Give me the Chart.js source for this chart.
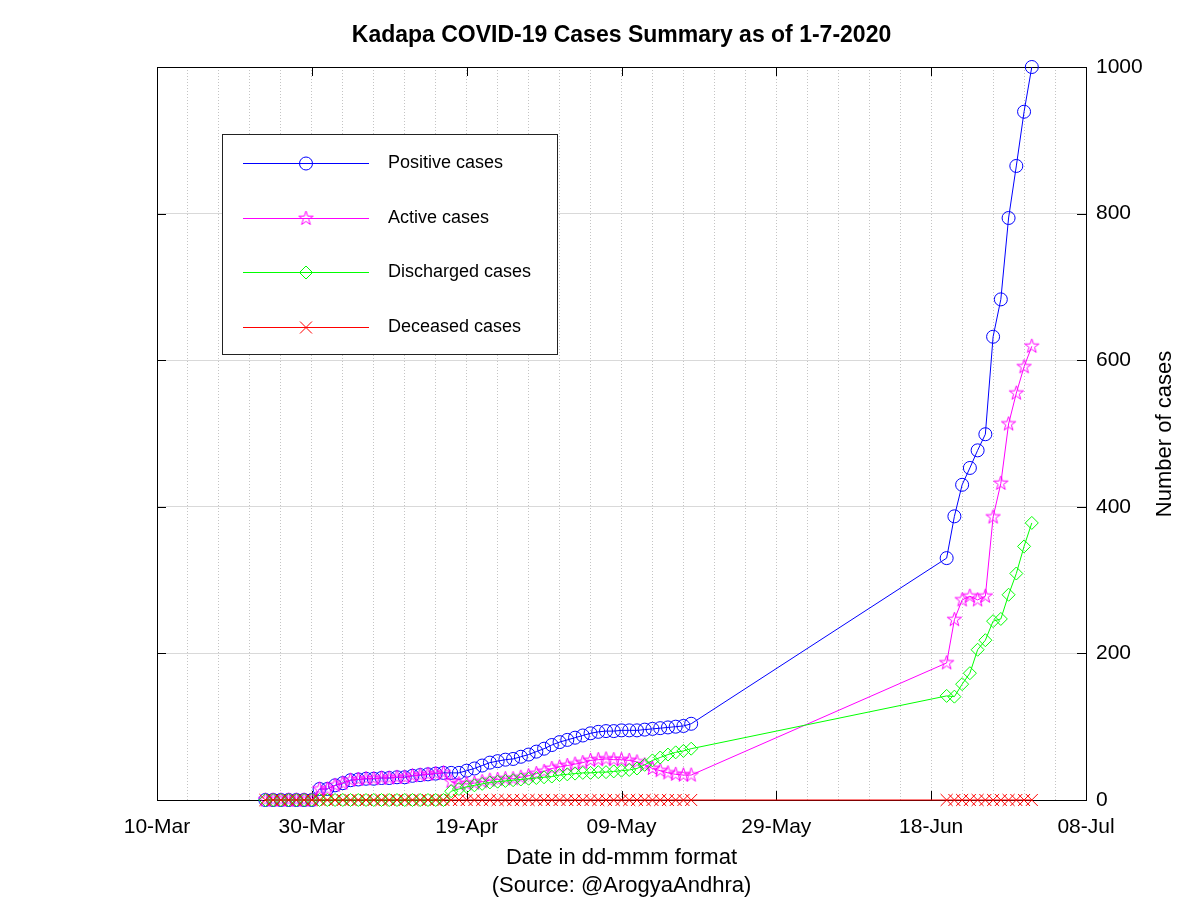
<!DOCTYPE html>
<html>
<head>
<meta charset="utf-8">
<script src="https://cdn.jsdelivr.net/npm/chart.js@4/dist/chart.umd.min.js"></script>
<style>
  body { margin: 0; background: #fff; }
  canvas { display: block; }
</style>
</head>
<body>
<canvas id="kadapaChart" width="1200" height="900"></canvas>
<script>
'use strict';

// data
var dates = [
  '2020-03-24','2020-03-25','2020-03-26','2020-03-27','2020-03-28','2020-03-29','2020-03-30',
  '2020-03-31','2020-04-01','2020-04-02','2020-04-03','2020-04-04','2020-04-05','2020-04-06',
  '2020-04-07','2020-04-08','2020-04-09','2020-04-10','2020-04-11','2020-04-12','2020-04-13',
  '2020-04-14','2020-04-15','2020-04-16','2020-04-17','2020-04-18','2020-04-19','2020-04-20',
  '2020-04-21','2020-04-22','2020-04-23','2020-04-24','2020-04-25','2020-04-26','2020-04-27',
  '2020-04-28','2020-04-29','2020-04-30','2020-05-01','2020-05-02','2020-05-03','2020-05-04',
  '2020-05-05','2020-05-06','2020-05-07','2020-05-08','2020-05-09','2020-05-10','2020-05-11',
  '2020-05-12','2020-05-13','2020-05-14','2020-05-15','2020-05-16','2020-05-17','2020-05-18',
  '2020-06-20','2020-06-21','2020-06-22','2020-06-23','2020-06-24','2020-06-25','2020-06-26',
  '2020-06-27','2020-06-28','2020-06-29','2020-06-30','2020-07-01'
];
var positive = [
  0,0,0,0,0,0,0,
  15,15,20,23,27,28,29,29,30,30,31,31,33,34,35,36,37,37,37,40,
  43,47,51,53,55,56,59,62,66,70,75,79,82,85,88,91,93,94,94,95,
  95,95,96,97,98,99,100,101,104,
  330,387,430,453,477,499,632,683,794,865,939,1000
];
var active = [
  0,0,0,0,0,0,0,
  15,15,20,23,27,28,29,29,30,30,31,31,33,34,35,36,37,25,22,22,
  23,25,27,28,29,29,31,33,36,39,43,45,47,49,51,54,55,56,55,55,
  54,52,48,43,40,37,35,34,34,
  187,246,273,278,273,278,386,432,513,555,591,619
];
var discharged = [
  0,0,0,0,0,0,0,
  0,0,0,0,0,0,0,0,0,0,0,0,0,0,0,0,0,12,15,18,
  20,22,24,25,26,27,28,29,30,31,32,34,35,36,37,37,38,38,39,40,
  41,43,48,54,58,62,65,67,70,
  142,141,158,173,205,218,244,247,280,309,346,378
];
var deceased = [
  0,0,0,0,0,0,0,
  0,0,0,0,0,0,0,0,0,0,0,0,0,0,0,0,0,0,0,0,
  0,0,0,0,0,0,0,0,0,0,0,0,0,0,0,0,0,0,0,0,
  0,0,0,0,0,0,0,0,0,
  0,0,0,0,0,0,0,0,0,0,0,0
];
var tickLabels = ['10-Mar','30-Mar','19-Apr','09-May','29-May','18-Jun','08-Jul'];
var startDate = '2020-03-10';

var FONT = "'Liberation Sans', Arial, sans-serif";

function dayOf(s) {
  return (Date.parse(s) - Date.parse(startDate)) / 86400000;
}
function toPoints(values) {
  return dates.map(function (d, i) { return { x: dayOf(d), y: values[i] }; });
}

// octave style pentagram marker
function makeStar(color) {
  var c = document.createElement('canvas');
  c.width = 17; c.height = 17;
  var g = c.getContext('2d');
  g.strokeStyle = color;
  g.lineWidth = 1;
  g.beginPath();
  for (var i = 0; i < 10; i++) {
    var r = i % 2 ? 2.9 : 7.5;
    var a = -Math.PI / 2 + i * Math.PI / 5;
    var px = 8.5 + r * Math.cos(a), py = 8.5 + r * Math.sin(a);
    if (i) g.lineTo(px, py); else g.moveTo(px, py);
  }
  g.closePath();
  g.stroke();
  return c;
}
var starImg = makeStar('#ff00ff');

function series(label, values, color, style, radius, order) {
  return {
    label: label,
    data: toPoints(values),
    borderColor: color,
    backgroundColor: color,
    borderWidth: 1,
    pointStyle: style,
    pointRadius: radius,
    pointBorderColor: color,
    pointBackgroundColor: 'rgba(0,0,0,0)',
    pointBorderWidth: 1,
    tension: 0,
    clip: false,
    order: order
  };
}

var framePlugin = {
  id: 'frame',
  beforeDatasetsDraw: function (chart) {
    var a = chart.chartArea, ctx = chart.ctx;
    var xs = chart.scales.x, ys = chart.scales.y;
    ctx.save();
    ctx.strokeStyle = '#000';
    ctx.lineWidth = 1;
    ctx.strokeRect(Math.round(a.left) + 0.5, Math.round(a.top) + 0.5,
      Math.round(a.right - a.left), Math.round(a.bottom - a.top));
    ctx.beginPath();
    for (var i = 0; i < tickLabels.length; i++) {
      var px = Math.round(xs.getPixelForValue(i * 20)) + 0.5;
      ctx.moveTo(px, a.bottom); ctx.lineTo(px, a.bottom - 9);
      ctx.moveTo(px, a.top); ctx.lineTo(px, a.top + 9);
    }
    for (var v = 0; v <= 1000; v += 200) {
      var py = Math.round(ys.getPixelForValue(v)) + 0.5;
      ctx.moveTo(a.right, py); ctx.lineTo(a.right - 9, py);
      ctx.moveTo(a.left, py); ctx.lineTo(a.left + 9, py);
    }
    ctx.stroke();
    ctx.restore();
  },
  afterDraw: function (chart) {
    var a = chart.chartArea, ctx = chart.ctx;
    ctx.save();
    // title
    ctx.fillStyle = '#000';
    ctx.font = 'bold 23px ' + FONT;
    ctx.textAlign = 'center';
    ctx.textBaseline = 'middle';
    ctx.fillText('Kadapa COVID-19 Cases Summary as of 1-7-2020', (a.left + a.right) / 2, 36);
    // y axis title, reads upward
    ctx.font = '22px ' + FONT;
    ctx.translate(1165, 434);
    ctx.rotate(-Math.PI / 2);
    ctx.fillText('Number of cases', 0, 0);
    ctx.restore();

    // legend box
    ctx.save();
    ctx.fillStyle = '#fff';
    ctx.fillRect(222, 134, 335, 220);
    ctx.strokeStyle = '#222';
    ctx.lineWidth = 1;
    ctx.strokeRect(222.5, 134.5, 335, 220);
    var rows = [163, 218, 272, 327];
    chart.data.datasets.forEach(function (ds, i) {
      var y = rows[i] + 0.5;
      ctx.strokeStyle = ds.borderColor;
      ctx.lineWidth = 1;
      ctx.beginPath();
      ctx.moveTo(243, y); ctx.lineTo(369, y);
      ctx.stroke();
      ctx.fillStyle = 'rgba(0,0,0,0)';
      Chart.helpers.drawPoint(ctx, {
        pointStyle: ds.pointStyle, radius: ds.pointRadius, rotation: 0, borderWidth: 1
      }, 306, y);
      ctx.fillStyle = '#000';
      ctx.font = '18px ' + FONT;
      ctx.textAlign = 'left';
      ctx.textBaseline = 'middle';
      ctx.fillText(ds.label, 388, rows[i]);
    });
    ctx.restore();
  }
};

var ctx = document.getElementById('kadapaChart').getContext('2d');
var kadapaChart = new Chart(ctx, {
  type: 'line',
  data: {
    datasets: [
      series('Positive cases', positive, '#0000ff', 'circle', 6.5, 4),
      series('Active cases', active, '#ff00ff', starImg, 7, 3),
      series('Discharged cases', discharged, '#00ff00', 'rectRot', 6.5, 2),
      series('Deceased cases', deceased, '#ff0000', 'crossRot', 8.5, 1)
    ]
  },
  options: {
    responsive: false,
    animation: false,
    events: [],
    layout: { padding: { left: 157, top: 67, right: 0, bottom: 0 } },
    plugins: { legend: { display: false }, title: { display: false }, tooltip: { enabled: false } },
    scales: {
      x: {
        type: 'linear',
        min: 0,
        max: 120,
        grid: { color: '#c4c4c4', lineWidth: 1, drawTicks: false },
        border: { display: false, dash: [1, 2] },
        ticks: {
          stepSize: 4,
          autoSkip: false,
          maxRotation: 0,
          padding: 15,
          color: '#000',
          font: { family: FONT, size: 21 },
          callback: function (v) { return v % 20 === 0 ? tickLabels[v / 20] : ''; }
        },
        title: {
          display: true,
          text: ['Date in dd-mmm format', '(Source: @ArogyaAndhra)'],
          color: '#000',
          font: { family: FONT, size: 22, lineHeight: 1.27 },
          padding: { top: 0, bottom: 0 }
        },
        afterFit: function (scale) { scale.height = 100; }
      },
      y: {
        position: 'right',
        min: 0,
        max: 1000,
        grid: { color: '#d9d9d9', lineWidth: 1, drawTicks: false },
        border: { display: false },
        ticks: {
          stepSize: 200,
          padding: 10,
          color: '#000',
          font: { family: FONT, size: 21 },
          callback: function (v) { return String(v); }
        },
        afterFit: function (scale) { scale.width = 114; }
      }
    }
  },
  plugins: [framePlugin]
});
</script>
</body>
</html>
